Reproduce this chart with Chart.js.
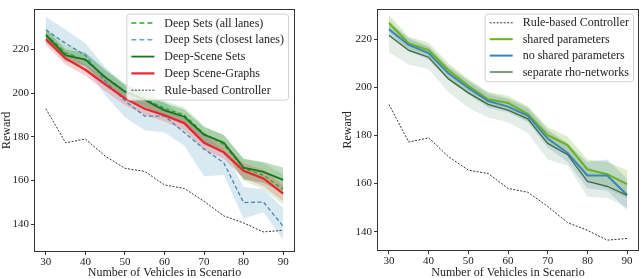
<!DOCTYPE html>
<html>
<head>
<meta charset="utf-8">
<script src="https://cdn.jsdelivr.net/npm/chart.js@4.4.0/dist/chart.umd.min.js"></script>
<style>
  html, body { margin: 0; padding: 0; background: #fff; }
  #wrap { position: relative; width: 640px; height: 278px; overflow: hidden; }
  canvas { position: absolute; top: 0; }
  #leftChart { left: 0; }
  #rightChart { left: 320px; }
</style>
</head>
<body>
<div id="wrap">
  <canvas id="leftChart" width="320" height="278"></canvas>
  <canvas id="rightChart" width="320" height="278"></canvas>
</div>
<script>
// x axis: number of vehicles
const vehicles = [30, 35, 40, 45, 50, 55, 60, 65, 70, 75, 80, 85, 90];
const xTicks = [30, 40, 50, 60, 70, 80, 90];
const yTicks = [140, 160, 180, 200, 220];

// shared baseline
const ruleBased = [192.9, 177.3, 179, 171.2, 165.6, 164.2, 158, 156.4, 150.5, 143.8, 140.6, 136.5, 137.2];

// left panel
const deepSetsAll = [227, 218.5, 215, 207.5, 201, 197.5, 193, 190, 181.5, 176.5, 165.5, 162.5, 156];
const deepSetsAllLow = [224, 215, 212, 204, 197.5, 194, 189.5, 186.5, 177.5, 172, 160, 156, 149];
const deepSetsAllHigh = [230, 222, 218.5, 211, 204.5, 201, 196.5, 193.5, 185, 180.5, 170, 168, 163];

const deepSetsClosest = [228.9, 222.8, 217.3, 205.5, 196.5, 189.5, 189.5, 182, 174.4, 168.1, 149.9, 150.2, 139.1];
const deepSetsClosestLow = [223, 217, 212, 199, 189, 183, 182, 176, 162, 162.5, 142.5, 145.5, 133];
const deepSetsClosestHigh = [235, 229, 223, 212, 203, 197, 196, 189, 181, 174, 157, 156, 147.5];

const sceneSets = [226.5, 217.3, 215.4, 207.3, 200.7, 196.9, 192.1, 189.2, 181, 177.3, 165.9, 164, 160.3];
const sceneSetsLow = [223.5, 214.5, 212.5, 204, 197.5, 193.5, 189, 186, 177.5, 173.5, 160.5, 159, 154.5];
const sceneSetsHigh = [229.5, 220, 218.5, 210.5, 204, 200, 195.5, 192.5, 184.5, 181, 170, 168.5, 166];

const sceneGraphs = [224.7, 215.9, 210.7, 204, 197.6, 192.9, 189.9, 186.2, 177.3, 172.9, 164.5, 161, 154];
const sceneGraphsLow = [222, 213, 208, 201, 194.5, 190, 187, 183, 174, 170, 161, 157.5, 150.5];
const sceneGraphsHigh = [227.5, 219, 213.5, 207, 200.5, 196, 193, 189.5, 180.5, 176.5, 168, 165, 158];

// right panel
const sharedParams = [226.7, 218.2, 215.5, 207.1, 200.6, 195, 193.5, 188.9, 180.1, 176, 165.9, 163.9, 159.8];
const sharedLow = [223.5, 215, 212.5, 204, 197.5, 192, 190.5, 186, 176.5, 172.5, 161, 158, 154];
const sharedHigh = [230, 221, 218.5, 210, 203.5, 198, 196.5, 192, 183.5, 179.5, 170, 169, 165.5];

const noShared = [224.1, 217.6, 214.2, 205.8, 199.7, 194.3, 192, 188.2, 178.7, 172.7, 163.4, 163.4, 155.3];
const noSharedLow = [221, 215, 211.5, 203, 197, 191.5, 189.5, 185.5, 175, 169, 158, 157, 149];
const noSharedHigh = [227, 220.5, 217, 208.5, 202.5, 197, 195, 191, 182, 176.5, 169, 170, 162];

const separateRho = [221.6, 215.3, 212.5, 203.5, 197.7, 192.9, 190.5, 186.9, 176.7, 172, 160.9, 158.9, 155.1];
const separateRhoLow = [214.5, 209.5, 207.5, 198, 191.5, 187.5, 185.5, 181, 170, 167.5, 154.5, 154, 150];
const separateRhoHigh = [228, 220, 217, 208.5, 203, 198, 195.5, 192, 182.5, 177, 167, 163.5, 160];

const FONT = "'Liberation Serif', 'Times New Roman', serif";
const AXIS_COLOR = '#333';

function pts(arr) {
  return arr.map((v, i) => ({ x: vehicles[i], y: v }));
}

function line(label, data, color, width, dash) {
  return {
    label: label,
    data: pts(data),
    borderColor: color,
    borderWidth: width,
    borderDash: dash || [],
    fill: false,
    pointRadius: 0
  };
}

function band(low, high, color) {
  return [
    { label: '_band', data: pts(high), borderWidth: 0, pointRadius: 0, backgroundColor: color, fill: '+1' },
    { label: '_band', data: pts(low), borderWidth: 0, pointRadius: 0, fill: false }
  ];
}

// frame (all four spines) + legend box in the upper right
const frameLegend = {
  id: 'frameLegend',
  afterDraw(chart) {
    const ctx = chart.ctx;
    const a = chart.chartArea;
    ctx.save();
    ctx.strokeStyle = AXIS_COLOR;
    ctx.lineWidth = 1;
    ctx.setLineDash([]);
    ctx.strokeRect(Math.round(a.left) + 0.5, Math.round(a.top) + 0.5,
      Math.round(a.right - a.left) - 1, Math.round(a.bottom - a.top) - 1);

    const lg = chart.options.plugins.frameLegend;
    ctx.font = '12px ' + FONT;
    const textW = Math.max(...lg.items.map(it => ctx.measureText(it.label).width));
    const w = 5 + lg.handle + 10 + textW + 4;
    const h = lg.items.length * lg.row + 2;
    const x0 = a.right - lg.inset - w;
    const y0 = a.top + 5;

    ctx.fillStyle = 'rgba(255,255,255,0.8)';
    ctx.strokeStyle = '#d0d0d0';
    ctx.beginPath();
    ctx.roundRect(x0 + 0.5, y0 + 0.5, w, h, 3);
    ctx.fill();
    ctx.stroke();

    ctx.textBaseline = 'middle';
    ctx.textAlign = 'left';
    lg.items.forEach((it, i) => {
      const cy = y0 + 1 + lg.row * (i + 0.5);
      ctx.strokeStyle = it.color;
      ctx.lineWidth = it.width;
      ctx.setLineDash(it.dash || []);
      ctx.beginPath();
      ctx.moveTo(x0 + 5, cy);
      ctx.lineTo(x0 + 5 + lg.handle, cy);
      ctx.stroke();
      ctx.fillStyle = '#222';
      ctx.fillText(it.label, x0 + 5 + lg.handle + 10, cy + 0.5);
    });
    ctx.restore();
  }
};

function makeChart(canvasId, datasets, legendItems, opts) {
  const ctx = document.getElementById(canvasId).getContext('2d');
  return new Chart(ctx, {
    type: 'line',
    data: { datasets: datasets },
    options: {
      responsive: false,
      animation: false,
      devicePixelRatio: 1,
      layout: { padding: opts.padding },
      elements: { line: { tension: 0 } },
      plugins: {
        legend: { display: false },
        tooltip: { enabled: false },
        filler: { drawTime: 'beforeDatasetsDraw' },
        frameLegend: { items: legendItems, handle: 23, row: opts.row, inset: opts.inset }
      },
      scales: {
        x: {
          type: 'linear',
          min: 27,
          max: 93,
          afterBuildTicks: axis => { axis.ticks = xTicks.map(v => ({ value: v })); },
          afterFit: axis => { axis.height = opts.xHeight; },
          grid: { drawOnChartArea: false, tickLength: 3, color: AXIS_COLOR },
          border: { display: false },
          ticks: { color: '#222', font: { family: FONT, size: 11 }, padding: 1, maxRotation: 0 },
          title: { display: true, text: 'Number of Vehicles in Scenario', color: '#222',
                   font: { family: FONT, size: 12, lineHeight: 1 }, padding: { top: 0, bottom: -1 } }
        },
        y: {
          type: 'linear',
          min: opts.yMin,
          max: opts.yMax,
          afterBuildTicks: axis => { axis.ticks = yTicks.map(v => ({ value: v })); },
          afterFit: axis => { axis.width = opts.yWidth; },
          grid: { drawOnChartArea: false, tickLength: 3, color: AXIS_COLOR },
          border: { display: false },
          ticks: { color: '#222', font: { family: FONT, size: 11 }, padding: 2 },
          title: { display: true, text: 'Reward', color: '#222',
                   font: { family: FONT, size: 12 }, padding: { top: opts.yTitlePad, bottom: 0 } }
        }
      }
    },
    plugins: [frameLegend]
  });
}

// left panel
const leftDatasets = [
  line('Rule-based Controller', ruleBased, '#333', 1, [2, 1.5]),
  line('Deep Scene-Graphs', sceneGraphs, '#e8262e', 2.2),
  line('Deep-Scene Sets', sceneSets, '#16771c', 1.8),
  line('Deep Sets (closest lanes)', deepSetsClosest, '#4a87ad', 1.3, [4, 2.5]),
  line('Deep Sets (all lanes)', deepSetsAll, '#2aa52a', 1.3, [4, 2.5]),
  ...band(sceneGraphsLow, sceneGraphsHigh, 'rgba(230,50,60,0.22)'),
  ...band(sceneSetsLow, sceneSetsHigh, 'rgba(40,130,40,0.28)'),
  ...band(deepSetsAllLow, deepSetsAllHigh, 'rgba(60,170,60,0.18)'),
  ...band(deepSetsClosestLow, deepSetsClosestHigh, 'rgba(120,175,205,0.28)')
];
const leftLegend = [
  { label: 'Deep Sets (all lanes)', color: '#2aa52a', width: 1.4, dash: [5, 3] },
  { label: 'Deep Sets (closest lanes)', color: '#6a9fc0', width: 1.4, dash: [5, 3] },
  { label: 'Deep-Scene Sets', color: '#16771c', width: 1.8 },
  { label: 'Deep Scene-Graphs', color: '#e8262e', width: 2.2 },
  { label: 'Rule-based Controller', color: '#333', width: 1, dash: [2, 1.5] }
];
makeChart('leftChart', leftDatasets, leftLegend, {
  padding: { top: 2, right: 25, bottom: 0, left: 0 },
  yMin: 127.3, yMax: 238.7, yWidth: 34, xHeight: 26, yTitlePad: 0, row: 16.8, inset: 7
});

// right panel
const rightDatasets = [
  line('Rule-based Controller', ruleBased, '#333', 1, [2, 1.5]),
  line('separate rho-networks', separateRho, '#3f6a48', 1.3),
  line('no shared parameters', noShared, '#3a86b4', 2),
  line('shared parameters', sharedParams, '#6cb21e', 2),
  ...band(separateRhoLow, separateRhoHigh, 'rgba(90,140,110,0.16)'),
  ...band(noSharedLow, noSharedHigh, 'rgba(60,130,180,0.2)'),
  ...band(sharedLow, sharedHigh, 'rgba(120,185,40,0.25)')
];
const rightLegend = [
  { label: 'Rule-based Controller', color: '#333', width: 1, dash: [2, 1.5] },
  { label: 'shared parameters', color: '#6cb21e', width: 2 },
  { label: 'no shared parameters', color: '#3a86b4', width: 2 },
  { label: 'separate rho-networks', color: '#7e9e86', width: 2 }
];
makeChart('rightChart', rightDatasets, rightLegend, {
  padding: { top: 2, right: 1, bottom: 0, left: 0 },
  yMin: 132, yMax: 232.7, yWidth: 57, xHeight: 27, yTitlePad: 21, row: 16.4, inset: 6
});
</script>
</body>
</html>
